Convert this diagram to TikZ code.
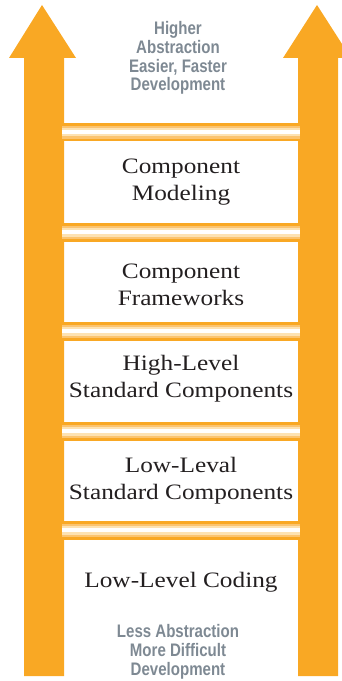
\documentclass[tikz,border=0pt]{standalone}
\usepackage{fontspec}
\newfontfamily\notefont[FakeStretch=0.83]{Liberation Sans}
\newfontfamily\levelfont[FakeStretch=1.15]{Liberation Serif}
\definecolor{ladderorange}{RGB}{249,168,36}
\definecolor{runglight}{RGB}{251,196,112}
\definecolor{rungpale}{RGB}{253,226,178}
\definecolor{labelgray}{RGB}{126,137,147}
\definecolor{labeltext}{RGB}{35,31,32}

\begin{document}
\begin{tikzpicture}[x=0.75pt,y=0.75pt,yscale=-1,xscale=1,
  level/.style={anchor=base,inner sep=0.75pt,align=center,text=labeltext,font=\levelfont\fontsize{16.5}{20.25}\selectfont},
  note/.style={anchor=base,inner sep=0.75pt,align=center,text=labelgray,font=\notefont\bfseries\fontsize{13.6}{14}\selectfont}]
\useasboundingbox (0,0) rectangle (342,681);
\clip (0,0) rectangle (342,681);

%Shape: Arrow (left rail)
\fill[ladderorange] (24,676) -- (24,58) -- (9,58) -- (42,5) -- (76,58) -- (64,58) -- (64,676) -- cycle;
%Shape: Arrow (right rail)
\fill[ladderorange] (298,676) -- (298,58) -- (283,58) -- (317,5) -- (351,58) -- (338,58) -- (338,676) -- cycle;

%Shape: Rungs (striped)
\foreach \ry in {123,223,322,422,521} {
  \fill[ladderorange] (62,\ry) rectangle (300,{\ry+18.5});
  \fill[runglight] (62,{\ry+2.7}) rectangle (300,{\ry+15.8});
  \fill[rungpale] (62,{\ry+5}) rectangle (300,{\ry+13.5});
  \fill[white] (62,{\ry+7.3}) rectangle (300,{\ry+11.2});
}

% Text Node (base = last line)
\node[note] (higher) at (178,91) {Higher\\Abstraction\\Easier, Faster\\Development};
% Text Node
\node[level] (modeling) at (181,200) {Component\\Modeling};
% Text Node
\node[level] (frameworks) at (181,305) {Component\\Frameworks};
% Text Node
\node[level] (highlevel) at (181,397) {High-Level\\Standard Components};
% Text Node
\node[level] (lowlevel) at (181,499) {Low-Leval\\Standard Components};
% Text Node
\node[level] (coding) at (181,587) {Low-Level Coding};
% Text Node
\node[note] (lower) at (178,675) {Less Abstraction\\More Difficult\\Development};

\end{tikzpicture}
\end{document}
